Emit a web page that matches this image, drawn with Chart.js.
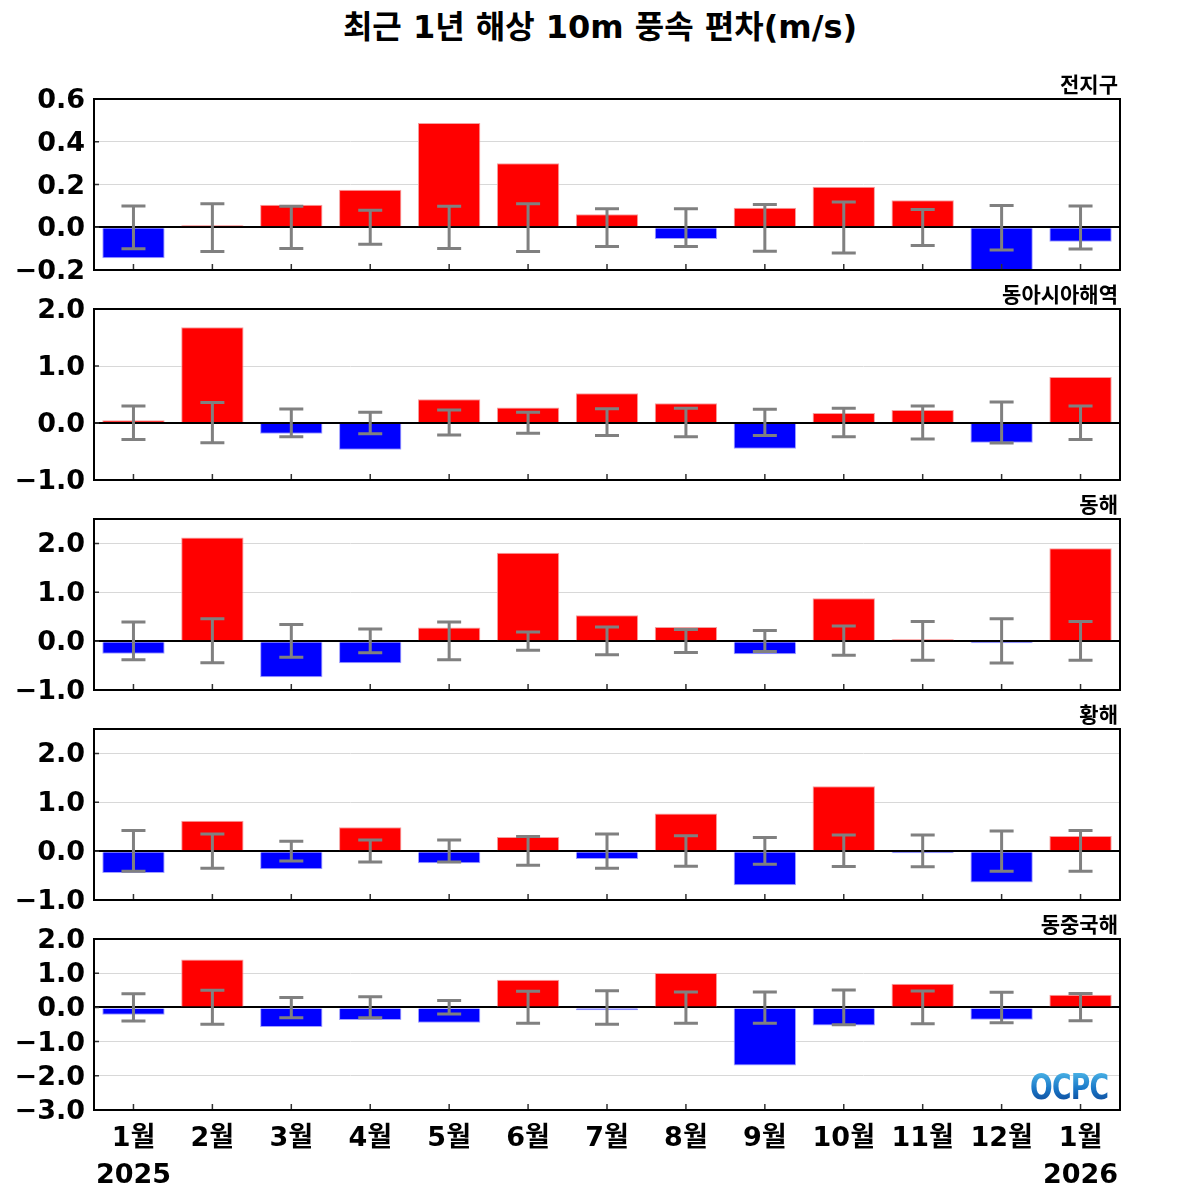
<!DOCTYPE html>
<html>
<head>
<meta charset="utf-8">
<script src="https://cdn.jsdelivr.net/npm/chart.js@4.4.1/dist/chart.umd.min.js"></script>
<style>
  body { margin: 0; background: #fff; }
  #wrap { position: relative; width: 1200px; height: 1200px; overflow: hidden; }
  #wrap canvas { position: absolute; left: 0; }
  .title { position: absolute; top: 1px; left: 0; width: 1200px; text-align: center;
    font: bold 32px "DejaVu Sans", "Noto Sans CJK KR"; color: #000; }
  .lbl { position: absolute; right: 82px; font: bold 21px "Noto Sans CJK KR"; color: #000; line-height: 24px; }
  .logo { position: absolute; left: 1030px; top: 1066px; font: bold 36px "DejaVu Sans";
    background: linear-gradient(#5cc8f0, #1a78c8 55%, #0a3c8c); -webkit-background-clip: text;
    background-clip: text; color: transparent; transform: scaleX(0.74); transform-origin: left; letter-spacing: -1px; }
</style>
</head>
<body>
<div id="wrap">
  <div class="title">최근 1년 해상 10m 풍속 편차(m/s)</div>
</div>
<script>
// 월 라벨
const months = ["1월", "2월", "3월", "4월", "5월", "6월", "7월", "8월", "9월", "10월", "11월", "12월", "1월"];
const years = ["2025", "", "", "", "", "", "", "", "", "", "", "", "2026"];
const regions = ["전지구", "동아시아해역", "동해", "황해", "동중국해"];

// 편차 값 (m/s)
const anomGlobal = [-0.145, 0.003, 0.105, 0.175, 0.488, 0.30, 0.061, -0.055, 0.091, 0.189, 0.126, -0.21, -0.068];
const anomEastAsia = [0.047, 1.68, -0.187, -0.47, 0.415, 0.27, 0.52, 0.345, -0.45, 0.175, 0.228, -0.345, 0.807];
const anomEastSea = [-0.26, 2.12, -0.74, -0.45, 0.28, 1.81, 0.53, 0.29, -0.27, 0.88, 0.035, -0.01, 1.90];
const anomYellowSea = [-0.445, 0.62, -0.37, 0.49, -0.25, 0.29, -0.16, 0.77, -0.70, 1.33, -0.01, -0.64, 0.31];
const anomEChinaSea = [-0.215, 1.40, -0.57, -0.37, -0.45, 0.81, -0.08, 1.005, -1.70, -0.53, 0.69, -0.36, 0.37];

// 오차막대 (위/아래)
const errUpGlobal = [0.10, 0.11, 0.098, 0.079, 0.098, 0.11, 0.087, 0.087, 0.107, 0.118, 0.083, 0.102, 0.099];
const errDnGlobal = [-0.10, -0.113, -0.099, -0.079, -0.099, -0.113, -0.09, -0.09, -0.112, -0.121, -0.085, -0.107, -0.102];
const errUpEastAsia = [0.30, 0.36, 0.245, 0.19, 0.23, 0.19, 0.25, 0.26, 0.24, 0.26, 0.30, 0.37, 0.30];
const errDnEastAsia = [-0.29, -0.345, -0.24, -0.19, -0.21, -0.18, -0.22, -0.24, -0.22, -0.24, -0.28, -0.35, -0.29];
const errUpEastSea = [0.39, 0.46, 0.34, 0.25, 0.39, 0.185, 0.29, 0.24, 0.22, 0.31, 0.40, 0.46, 0.40];
const errDnEastSea = [-0.38, -0.44, -0.33, -0.24, -0.38, -0.185, -0.28, -0.23, -0.21, -0.29, -0.39, -0.445, -0.39];
const errUpYellowSea = [0.42, 0.35, 0.20, 0.23, 0.23, 0.30, 0.35, 0.315, 0.28, 0.33, 0.33, 0.41, 0.42];
const errDnYellowSea = [-0.41, -0.35, -0.20, -0.22, -0.22, -0.29, -0.35, -0.31, -0.27, -0.315, -0.32, -0.41, -0.41];
const errUpEChinaSea = [0.40, 0.50, 0.29, 0.31, 0.205, 0.47, 0.49, 0.45, 0.45, 0.51, 0.48, 0.44, 0.41];
const errDnEChinaSea = [-0.40, -0.49, -0.30, -0.30, -0.195, -0.46, -0.49, -0.46, -0.46, -0.51, -0.48, -0.45, -0.39];

// y축 눈금
const ticksGlobal = [-0.2, 0.0, 0.2, 0.4, 0.6];
const ticksEastAsia = [-1, 0, 1, 2];
const ticksEastSea = [-1, 0, 1, 2, 2.5];
const ticksYellowSea = [-1, 0, 1, 2, 2.5];
const ticksEChinaSea = [-3, -2, -1, 0, 1, 2];

const BOX_TOPS = [99, 309, 519, 729, 939];
const BOX_H = 171;
const PAD_T = 30;

const wrap = document.getElementById("wrap");

const boxPlugin = {
  id: "boxPlugin",
  afterDatasetsDraw(chart, args, opts) {
    const ctx = chart.ctx;
    const a = chart.chartArea;
    const xs = chart.scales.x;
    const ys = chart.scales.y;
    // 오차막대
    ctx.save();
    ctx.strokeStyle = "#808080";
    ctx.lineWidth = 3;
    opts.up.forEach((u, i) => {
      const x = xs.getPixelForValue(i);
      const y1 = ys.getPixelForValue(u);
      const y2 = ys.getPixelForValue(opts.dn[i]);
      ctx.beginPath();
      ctx.moveTo(x, y1); ctx.lineTo(x, y2);
      ctx.moveTo(x - 12, y1); ctx.lineTo(x + 12, y1);
      ctx.moveTo(x - 12, y2); ctx.lineTo(x + 12, y2);
      ctx.stroke();
    });
    // 안쪽 눈금
    ctx.strokeStyle = "#333";
    ctx.lineWidth = 1.5;
    ctx.beginPath();
    months.forEach((m, i) => {
      const x = xs.getPixelForValue(i);
      ctx.moveTo(x, a.bottom); ctx.lineTo(x, a.bottom - 6);
    });
    ys.ticks.forEach(t => {
      const y = ys.getPixelForValue(t.value);
      ctx.moveTo(a.left, y); ctx.lineTo(a.left + 5, y);
    });
    ctx.stroke();
    // 테두리
    ctx.strokeStyle = "#000";
    ctx.lineWidth = 2;
    ctx.strokeRect(a.left, a.top, a.right - a.left, a.bottom - a.top);
    ctx.restore();
  }
};

function makePanel(idx, vals, up, dn, tickVals, showX) {
  const top = BOX_TOPS[idx];
  const padB = showX ? 1200 - (top + BOX_H) : PAD_T;
  const canvas = document.createElement("canvas");
  canvas.width = 1200;
  canvas.height = PAD_T + BOX_H + padB;
  canvas.style.top = (top - PAD_T) + "px";
  wrap.appendChild(canvas);

  const lbl = document.createElement("div");
  lbl.className = "lbl";
  lbl.style.top = (top - 28) + "px";
  lbl.textContent = regions[idx];
  wrap.appendChild(lbl);

  const labels = showX ? months.map((m, i) => [m, years[i]]) : months;

  const chart = new Chart(canvas, {
    type: "bar",
    data: {
      labels: labels,
      datasets: [{
        data: vals,
        backgroundColor: vals.map(v => v >= 0 ? "#ff0000" : "#0000ff"),
        borderColor: vals.map(v => v >= 0 ? "#f4a0a0" : "#a0a0ff"),
        borderWidth: 1,
        minBarLength: 2,
        barPercentage: 0.79,
        categoryPercentage: 1.0,
      }],
    },
    options: {
      responsive: false,
      animation: false,
      layout: { padding: { top: PAD_T, right: 80, left: 0, bottom: showX ? 0 : padB } },
      plugins: {
        legend: { display: false },
        tooltip: { enabled: false },
        boxPlugin: { up: up, dn: dn },
      },
      scales: {
        x: {
          offset: true,
          grid: { display: false, drawTicks: false },
          border: { display: false },
          ticks: {
            display: showX,
            color: "#000",
            padding: 11,
            maxRotation: 0,
            autoSkip: false,
            font: { family: "'DejaVu Sans', 'Noto Sans CJK KR'", size: 27, weight: "bold", lineHeight: 1.35 },
          },
          afterFit(scale) { scale.height = showX ? padB : 0; },
        },
        y: {
          min: tickVals[0],
          max: tickVals[tickVals.length - 1],
          afterBuildTicks(scale) { scale.ticks = tickVals.map(v => ({ value: v })); },
          afterFit(scale) { scale.width = 94; },
          grid: {
            drawTicks: false,
            color: c => (c.tick && c.tick.value === 0) ? "#000" : "#d8d8d8",
            lineWidth: c => (c.tick && c.tick.value === 0) ? 2 : 1,
          },
          border: { display: false },
          ticks: {
            color: "#000",
            padding: 9,
            labelOffset: 2,
            autoSkip: false,
            font: { family: "'DejaVu Sans'", size: 27, weight: "bold" },
            callback: v => (v === 2.5 ? "" : (v < 0 ? "\u2212" : "") + Math.abs(v).toFixed(1)),
          },
        },
      },
    },
    plugins: [boxPlugin],
  });
  return chart;
}

makePanel(0, anomGlobal, errUpGlobal, errDnGlobal, ticksGlobal, false);
makePanel(1, anomEastAsia, errUpEastAsia, errDnEastAsia, ticksEastAsia, false);
makePanel(2, anomEastSea, errUpEastSea, errDnEastSea, ticksEastSea, false);
makePanel(3, anomYellowSea, errUpYellowSea, errDnYellowSea, ticksYellowSea, false);
makePanel(4, anomEChinaSea, errUpEChinaSea, errDnEChinaSea, ticksEChinaSea, true);

const logo = document.createElement("div");
logo.className = "logo";
logo.textContent = "OCPC";
wrap.appendChild(logo);
</script>
</body>
</html>
